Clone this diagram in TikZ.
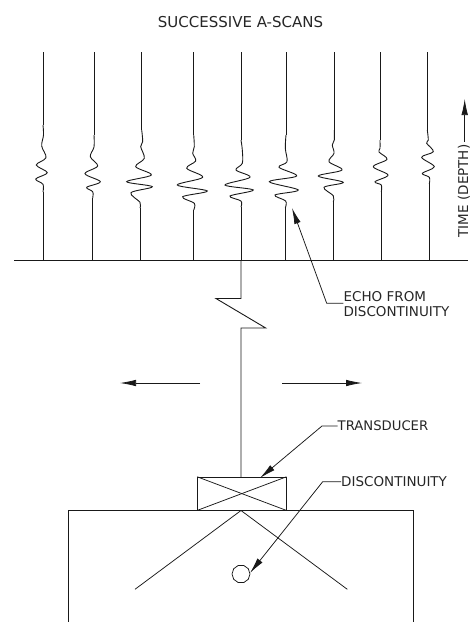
\documentclass[tikz,border=0pt]{standalone}
\usepackage{fontspec}
\setmainfont{DejaVu Sans}
\usetikzlibrary{arrows.meta,shapes.geometric}
\tikzset{
  ln/.style={draw=black!90,line width=0.9pt,line join=miter},
  thin line/.style={ln,line width=0.75pt},
  wave/.style={ln,smooth,tension=0.55},
  lbl/.style={font=\fontsize{13.5}{15.7}\selectfont,text=black!85,inner sep=0pt,align=left},
  tip/.style={-{Latex[length=16pt,width=6.5pt]}},
}
\begin{document}
\begin{tikzpicture}[x=1pt,y=-1pt]
\useasboundingbox (0,0) rectangle (470,622);
% A-scans
\draw[ln] (43,52) -- (43,125);
\draw[wave] plot coordinates {(43,125)(43.5,135)(41.7,146)(46,157.7)(36.3,165)(47.3,172.7)(35.7,179)(43,184.3)(43,192)};
\draw[ln] (43,192) -- (43,260);
\draw[ln] (94,52) -- (94,135);
\draw[wave] plot coordinates {(94,135)(94,147)(90.3,156.7)(97.7,166)(85,173.7)(100.3,181.7)(86.7,187.3)(92.7,191.7)(92.7,198)};
\draw[ln] (92.7,198) -- (92.7,260);
\draw[ln] (141.7,52) -- (141.7,130);
\draw[wave] plot coordinates {(141.7,130)(142.7,141.7)(140.7,146.7)(144.3,158.3)(135.7,166.7)(151.3,175)(126.7,181.7)(152.3,186.7)(131,192.7)(140,202.3)(140,208)};
\draw[ln] (140,208) -- (140,260);
\draw[ln] (193.7,52) -- (193.7,135);
\draw[wave] plot coordinates {(193.7,135)(194.3,146.7)(192.7,153.3)(195.7,161)(186.7,168.3)(202.7,177.3)(177.3,185)(207.3,191)(182.7,196.7)(194.3,203.3)(193.7,210)};
\draw[ln] (193.7,210) -- (193.7,260);
\draw[ln] (241,52) -- (241,140);
\draw[wave] plot coordinates {(241,140)(242.3,150)(242.3,163.3)(236,170)(250,177.3)(225,185)(253.3,190)(230,196)(241,201)(241,207)};
\draw[ln] (241,207) -- (241,260);
\draw[ln] (286,52) -- (286,135);
\draw[wave] plot coordinates {(286,135)(285.3,148.3)(287,161.7)(279,167.3)(296.7,176)(269.3,181.7)(298.3,190)(275,195)(285.7,201)(285.3,208)};
\draw[ln] (285.3,208) -- (285.3,260);
\draw[ln] (334.3,52) -- (334.3,130);
\draw[wave] plot coordinates {(334.3,130)(334.3,140)(332.3,145)(334,153.3)(329,161.7)(342,170)(318.3,176)(343.3,182.3)(324,187.3)(333.3,195.7)(333.3,202)};
\draw[ln] (333.3,202) -- (333.3,260);
\draw[ln] (380,52) -- (380,140);
\draw[wave] plot coordinates {(380,140)(380,148.3)(379,152)(387,159.3)(373.3,166.7)(388,175)(375,181.7)(381.3,185)(381.3,192)};
\draw[ln] (381.3,192) -- (381.3,260);
\draw[ln] (427.3,52) -- (427.3,130);
\draw[wave] plot coordinates {(427.3,130)(428.3,140)(426.7,143.3)(433.3,151.7)(421.7,157.3)(434.3,166.7)(422.3,173.3)(429.3,177.3)(429.3,184)};
\draw[ln] (429.3,184) -- (429.3,260);
% baseline and stem
\coordinate (blL) at (14,260);
\coordinate (blR) at (468,260);
\draw[ln] (blL) -- (blR);
\coordinate (stemTop) at (241,260);
\node[ln,rectangle,minimum width=88.3pt,minimum height=32.7pt,inner sep=0pt] (probe) at (241.8,493.6) {};
\draw[ln] (stemTop) -- (241,298.5) -- (216,298.5) -- (265.7,328) -- (241,328) -- (241,477.3);
\draw[thin line] (probe.north west) -- (probe.south east);
\draw[thin line] (probe.south west) -- (probe.north east);
% block
\draw[ln] (68.3,622) -- (68.3,510) -- (413.6,510) -- (413.6,622);
% beam
\coordinate (apex) at (241,510.5);
\coordinate (beamL) at (135,589.3);
\coordinate (beamR) at (347.3,589.3);
\draw[thin line] (beamL) -- (apex) -- (beamR);
\node[thin line,regular polygon,regular polygon sides=10,minimum size=18pt,inner sep=0pt] (flaw) at (241,574) {};
% motion arrows
\draw[thin line,tip] (200,383) -- (120,383);
\draw[thin line,tip] (282,383) -- (362,383);
% labels
\node[lbl,font=\fontsize{15}{18}\selectfont,anchor=center] (title) at (240.5,22) {SUCCESSIVE A-SCANS};
\node[lbl,anchor=west] (echo) at (343.4,304) {ECHO FROM\\DISCONTINUITY};
\node[lbl,font=\fontsize{13.2}{16}\selectfont,anchor=west] (tr) at (337.5,426) {TRANSDUCER};
\node[lbl,anchor=west] (dis) at (341,481.7) {DISCONTINUITY};
\node[lbl,anchor=south,rotate=90] (time) at (470,191) {TIME (DEPTH)};
% leaders
\coordinate (e1) at (326.7,303.3);
\coordinate (e2) at (292,208);
\draw[thin line,tip] (echo.west |- e1) -- (e1) -- (e2);
\coordinate (t1) at (322,426);
\coordinate (t2) at (260,478);
\draw[thin line,tip] (tr.west) -- (t1) -- (t2);
\coordinate (d1) at (322.7,481.7);
\draw[thin line,tip] (dis.west) -- (d1) -- (250,573);
\coordinate (timeTip) at (464.7,99);
\draw[thin line,tip] (464.7,141.7) -- (timeTip);
\end{tikzpicture}
\end{document}
